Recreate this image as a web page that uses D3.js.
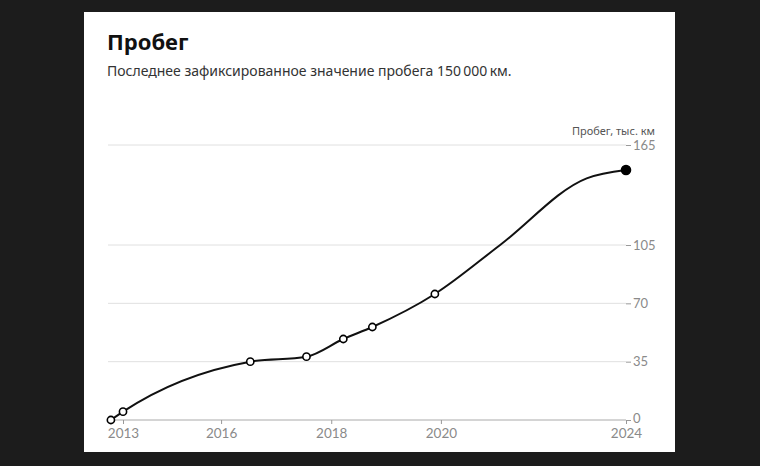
<!DOCTYPE html>
<html>
<head>
<meta charset="utf-8">
<script src="https://cdn.jsdelivr.net/npm/d3@7"></script>
<style>
  html, body { margin: 0; padding: 0; background: #1c1c1c; }
  #card { position: absolute; left: 84px; top: 12px; width: 591px; height: 440px; background: #fff; }
  svg { display: block; }
</style>
</head>
<body>
<div id="card"></div>
<script>
// recorded measurements: dates (fractional years) and mileage, thousand km
const years = [2012.63, 2013.0, 2016.53, 2017.55, 2018.22, 2018.75, 2019.89, 2024.0];
const mileage = [0, 5, 35, 38, 48.6, 55.8, 75.6, 150];

// unmarked points the trend line passes through between 2020 and 2024
const trendYears = [2021.28, 2023.15];
const trendMileage = [105, 145];

const xTicks = [2013, 2016, 2018, 2020, 2024];
// axis spacing on the original is uneven, keep it per tick
const xTickPos = [0.0, 0.195, 0.414, 0.632, 1.0];
const yTicks = [0, 35, 70, 105, 165];

const W = 591, H = 440;
const margin = {left: 24, right: 49, top: 133, bottom: 32};
const innerW = W - margin.left - margin.right;
const innerH = H - margin.top - margin.bottom;

const svg = d3.select("#card").append("svg")
    .attr("width", W)
    .attr("height", H);

// title + subtitle
svg.append("text")
    .attr("x", 23).attr("y", 38)
    .attr("font-family", "'Noto Sans', sans-serif")
    .attr("font-weight", "bold")
    .attr("font-size", 22)
    .attr("fill", "#111")
    .text("Пробег");

svg.append("text")
    .attr("x", 23).attr("y", 64)
    .attr("font-family", "'Noto Sans', sans-serif")
    .attr("font-size", 14)
    .attr("fill", "#333")
    .text("Последнее зафиксированное значение пробега 150\u2009000\u2009км.");

const g = svg.append("g")
    .attr("transform", `translate(${margin.left},${margin.top})`);

const x = d3.scaleLinear()
    .domain(xTicks)
    .range(xTickPos.map(p => 15 + p * (innerW - 15)));

const y = d3.scaleLinear()
    .domain([0, 165])
    .range([innerH, 0]);

// grid lines
g.append("g")
    .selectAll("line")
    .data(yTicks.filter(d => d > 0))
    .join("line")
    .attr("x1", 0).attr("x2", innerW)
    .attr("y1", d => y(d)).attr("y2", d => y(d))
    .attr("stroke", "#e0e0e0")
    .attr("stroke-width", 1);

// y axis on the right
const yAxis = g.append("g")
    .attr("transform", `translate(${innerW},0)`)
    .call(d3.axisRight(y).tickValues(yTicks).tickSize(5).tickPadding(2));
yAxis.select(".domain").remove();
yAxis.selectAll(".tick line").attr("stroke", "#999");
yAxis.selectAll(".tick text")
    .attr("font-family", "Lato, sans-serif")
    .attr("font-size", 13)
    .attr("fill", "#8a8a8a");
yAxis.selectAll(".tick text").filter(d => d === 0).attr("dy", "0.2em");

g.append("text")
    .attr("x", innerW + 29)
    .attr("y", -10)
    .attr("text-anchor", "end")
    .attr("font-family", "'Noto Sans', sans-serif")
    .attr("font-size", 11)
    .attr("fill", "#555")
    .text("Пробег, тыс. км");

// x axis
const xAxis = g.append("g")
    .attr("transform", `translate(0,${innerH})`)
    .call(d3.axisBottom(x).tickValues(xTicks).tickFormat(d3.format("d")).tickSize(4).tickSizeOuter(0).tickPadding(4));
xAxis.select(".domain")
    .attr("d", `M0,0H${innerW}`)
    .attr("stroke", "#aaa");
xAxis.selectAll(".tick line").attr("stroke", "#999");
xAxis.selectAll(".tick text")
    .attr("font-family", "Lato, sans-serif")
    .attr("font-size", 13.5)
    .attr("fill", "#8a8a8a");

// line
const pts = years.map((d, i) => ({year: d, value: mileage[i]}));
const linePts = pts.concat(trendYears.map((d, i) => ({year: d, value: trendMileage[i]})))
    .sort((a, b) => a.year - b.year);

const line = d3.line()
    .x(d => x(d.year))
    .y(d => y(d.value))
    .curve(d3.curveMonotoneX);

g.append("path")
    .datum(linePts)
    .attr("d", line)
    .attr("fill", "none")
    .attr("stroke", "#111")
    .attr("stroke-width", 2);

g.append("g")
    .selectAll("circle")
    .data(pts)
    .join("circle")
    .attr("cx", d => x(d.year))
    .attr("cy", d => y(d.value))
    .attr("r", (d, i) => i === pts.length - 1 ? 4.5 : 3.6)
    .attr("fill", (d, i) => i === pts.length - 1 ? "#000" : "#fff")
    .attr("stroke", "#000")
    .attr("stroke-width", 1.6);
</script>
</body>
</html>
